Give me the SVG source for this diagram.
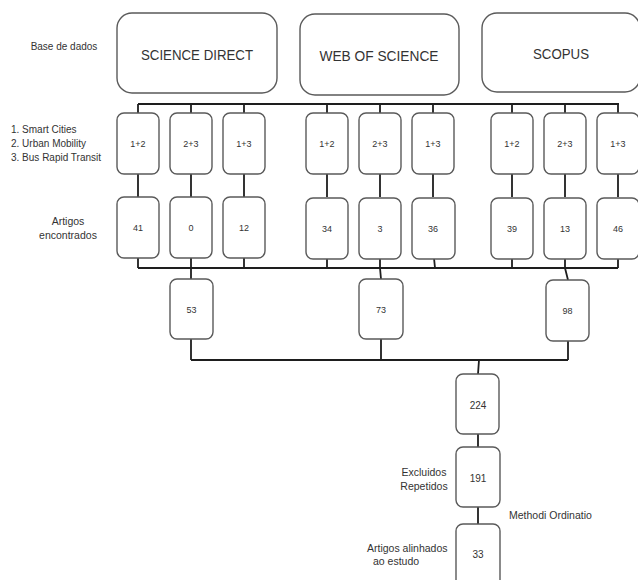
<svg xmlns="http://www.w3.org/2000/svg" width="638" height="580" viewBox="0 0 638 580">
<style>
.box{fill:#fff;stroke:#5a5a5a;stroke-width:1.4}
.c{fill:none;stroke:#1e1e1e;stroke-width:1.8}
text{font-family:"Liberation Sans",Arial,sans-serif;fill:#333}
.big{font-size:14px;text-anchor:middle}
.n{font-size:9px;text-anchor:middle}
.m{font-size:10px;text-anchor:middle}
.lbl{font-size:10px}
.lb{font-size:10.5px}
</style>
<rect width="638" height="580" fill="#fff"/>
<g id="connectors">
<path class="c" d="M138 104H619 M138 104V113 M191 104V113 M244 104V113 M327 104V113 M380 104V113 M433 104V113 M512 104V113 M565 104V113 M618 104V113"/>
<path class="c" d="M138 174V197 M191 174V197 M244 174V197 M327 174V197 M380 174V197 M433 174V197 M512 174V197 M565 174V197 M618 174V197"/>
<path class="c" d="M138 258V268 M191 258V268 M244 258V268 M327 258V268 M380 258V268 M434 258L435 268 M512 258V268 M565 258V268 M618 258V268 M138 268H618"/>
<path class="c" d="M191 268V279 M380 268L381 279 M565 268L568 280"/>
<path class="c" d="M191 339V360 M381 339V360 M568 341V360 M191 360H568"/>
<path class="c" d="M479 360L478 374 M478 434V447 M478 507V524"/>
</g>
<g id="science-direct"><rect class="box" x="117" y="13" width="160" height="80" rx="15"/><text class="big" x="197" y="60" textLength="112" lengthAdjust="spacingAndGlyphs">SCIENCE DIRECT</text></g>
<g id="web-of-science"><rect class="box" x="300" y="14" width="159" height="81" rx="15"/><text class="big" x="379" y="61" textLength="119" lengthAdjust="spacingAndGlyphs">WEB OF SCIENCE</text></g>
<g id="scopus"><rect class="box" x="482" y="13" width="158" height="79" rx="15"/><text class="big" x="561" y="59" textLength="56" lengthAdjust="spacingAndGlyphs">SCOPUS</text></g>

<g id="sd-12"><rect class="box" x="117" y="113" width="42" height="61" rx="7"/><text class="n" x="138" y="147">1+2</text></g>
<g id="sd-23"><rect class="box" x="170" y="113" width="42" height="61" rx="7"/><text class="n" x="191" y="147">2+3</text></g>
<g id="sd-13"><rect class="box" x="223" y="113" width="42" height="61" rx="7"/><text class="n" x="244" y="147">1+3</text></g>
<g id="ws-12"><rect class="box" x="306" y="113" width="42" height="61" rx="7"/><text class="n" x="327" y="147">1+2</text></g>
<g id="ws-23"><rect class="box" x="359" y="113" width="42" height="61" rx="7"/><text class="n" x="380" y="147">2+3</text></g>
<g id="ws-13"><rect class="box" x="412" y="113" width="42" height="61" rx="7"/><text class="n" x="433" y="147">1+3</text></g>
<g id="sc-12"><rect class="box" x="491" y="113" width="42" height="61" rx="7"/><text class="n" x="512" y="147">1+2</text></g>
<g id="sc-23"><rect class="box" x="544" y="113" width="42" height="61" rx="7"/><text class="n" x="565" y="147">2+3</text></g>
<g id="sc-13"><rect class="box" x="597" y="113" width="42" height="61" rx="7"/><text class="n" x="618" y="147">1+3</text></g>

<g id="sd-41"><rect class="box" x="117" y="197" width="42" height="61" rx="7"/><text class="n" x="138" y="231">41</text></g>
<g id="sd-0"><rect class="box" x="170" y="197" width="42" height="61" rx="7"/><text class="n" x="191" y="231">0</text></g>
<g id="sd-12b"><rect class="box" x="223" y="197" width="42" height="61" rx="7"/><text class="n" x="244" y="231">12</text></g>
<g id="ws-34"><rect class="box" x="306" y="198" width="42" height="61" rx="7"/><text class="n" x="327" y="232">34</text></g>
<g id="ws-3"><rect class="box" x="359" y="198" width="42" height="61" rx="7"/><text class="n" x="380" y="232">3</text></g>
<g id="ws-36"><rect class="box" x="412" y="198" width="43" height="61" rx="7"/><text class="n" x="433" y="232">36</text></g>
<g id="sc-39"><rect class="box" x="491" y="198" width="42" height="61" rx="7"/><text class="n" x="512" y="232">39</text></g>
<g id="sc-13b"><rect class="box" x="544" y="198" width="42" height="61" rx="7"/><text class="n" x="565" y="232">13</text></g>
<g id="sc-46"><rect class="box" x="597" y="198" width="42" height="61" rx="7"/><text class="n" x="618" y="232">46</text></g>

<g id="sum-53"><rect class="box" x="170" y="279" width="43" height="60" rx="7"/><text class="n" x="191.5" y="313">53</text></g>
<g id="sum-73"><rect class="box" x="359" y="279" width="44" height="60" rx="7"/><text class="n" x="381" y="313">73</text></g>
<g id="sum-98"><rect class="box" x="546" y="280" width="43" height="61" rx="7"/><text class="n" x="567.5" y="314">98</text></g>

<g id="total-224"><rect class="box" x="456" y="374" width="43" height="60" rx="7"/><text class="m" x="478" y="408.5">224</text></g>
<g id="total-191"><rect class="box" x="456" y="447" width="44" height="60" rx="7"/><text class="m" x="478" y="481.5">191</text></g>
<g id="total-33"><rect class="box" x="456" y="524" width="44" height="64" rx="7"/><text class="m" x="478" y="558">33</text></g>

<g id="labels">
<text class="lbl" x="64" y="49.5" text-anchor="middle">Base de dados</text>
<text class="lbl" x="11" y="132.5">1. Smart Cities</text>
<text class="lbl" x="11" y="146.5">2. Urban Mobility</text>
<text class="lbl" x="11" y="160.5">3. Bus Rapid Transit</text>
<text class="lb" x="68" y="224.5" text-anchor="middle">Artigos</text>
<text class="lb" x="68" y="238.5" text-anchor="middle">encontrados</text>
<text class="lb" x="424" y="475.5" text-anchor="middle">Excluidos</text>
<text class="lb" x="424" y="489.5" text-anchor="middle">Repetidos</text>
<text class="lb" x="509" y="518.5">Methodi Ordinatio</text>
<text class="lb" x="367" y="552">Artigos alinhados</text>
<text class="lb" x="373" y="565">ao estudo</text>
</g>
</svg>
